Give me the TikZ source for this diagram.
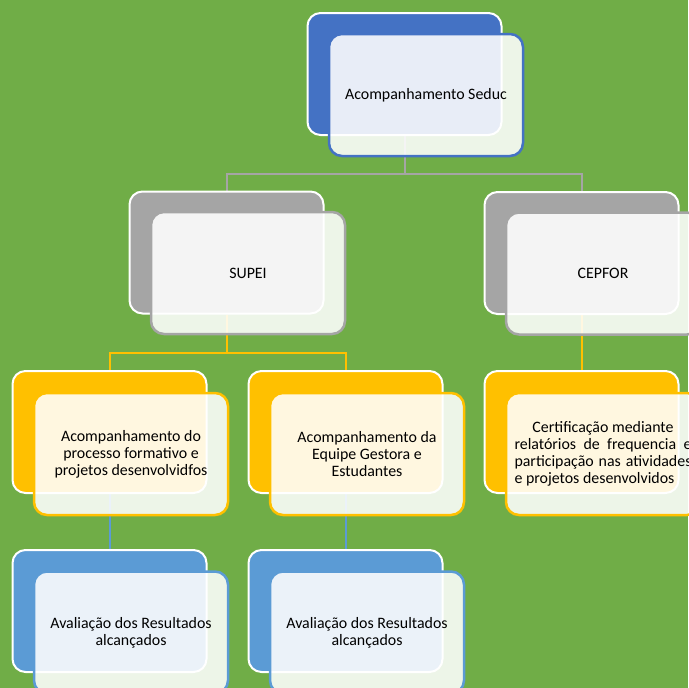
\documentclass[tikz,border=0pt]{standalone}
\usepackage{fontspec}
\setmainfont{Carlito}
\definecolor{bggreen}{HTML}{70AD47}
\definecolor{topblue}{HTML}{4472C4}
\definecolor{midgray}{HTML}{A5A5A5}
\definecolor{gold}{HTML}{FFC000}
\definecolor{lightblue}{HTML}{5B9BD5}
\pgfdeclarelayer{base}
\pgfdeclarelayer{lines}
\pgfsetlayers{base,lines,main}
\begin{document}
\begin{tikzpicture}[x=1pt,y=-1pt,
  backbox/.style={draw=white, fill=#1, line width=2pt, rounded corners=13pt,
    minimum width=194pt, minimum height=122pt, inner sep=0pt},
  frontbox/.style={draw=#1, fill=white, fill opacity=0.88, text opacity=1,
    line width=2.5pt, rounded corners=13pt, minimum width=194pt,
    minimum height=122pt, inner sep=4pt, align=center, text=black,
    font=\fontsize{15.9}{17}\selectfont},
  conn/.style={draw=#1, line width=2pt}]
\useasboundingbox (0,0) rectangle (688,688);
\begin{pgfonlayer}{base}
\fill[bggreen] (0,0) rectangle (688,688);
\end{pgfonlayer}

% level 1
\node[backbox=topblue] (topb) at (404.5,74) {};
\node[frontbox=topblue] (topf) at (426,95) {\raisebox{-2pt}{Acompanhamento Seduc}};
% level 2
\node[backbox=midgray] (supeib) at (226.5,252.5) {};
\node[frontbox=midgray] (supeif) at (248,273) {\raisebox{-2pt}{SUPEI}};
\node[backbox=midgray] (cepforb) at (581.5,253) {};
\node[frontbox=midgray] (cepforf) at (603,273.5) {\raisebox{-2pt}{CEPFOR}};
% level 3
\node[backbox=gold] (procb) at (109.5,432) {};
\node[frontbox=gold] (procf) at (131,454) {Acompanhamento do\\processo formativo e\\projetos desenvolvidfos};
\node[backbox=gold] (equipb) at (345.5,432) {};
\node[frontbox=gold] (equipf) at (367,454) {Acompanhamento da\\Equipe Gestora e\\Estudantes};
\node[backbox=gold] (certb) at (581.5,432) {};
\node[frontbox=gold] (certf) at (603,454) {Certificação mediante\\
  \makebox[177pt][s]{relatórios de frequencia e}\\
  \makebox[177pt][s]{participação nas atividades}\\
  \makebox[177pt][l]{e projetos desenvolvidos}};
% level 4
\node[backbox=lightblue] (aval1b) at (109.5,611) {};
\node[frontbox=lightblue] (aval1f) at (131,632.5) {Avaliação dos Resultados\\alcançados};
\node[backbox=lightblue] (aval2b) at (345.5,611) {};
\node[frontbox=lightblue] (aval2f) at (367,632.5) {Avaliação dos Resultados\\alcançados};

\coordinate (bar1) at (0,174);
\coordinate (bar2) at (0,353);
\begin{pgfonlayer}{lines}
\draw[conn=midgray] (topb.south) -- (topb.south |- bar1) -| (supeib.north);
\draw[conn=midgray] (topb.south |- bar1) -| (cepforb.north);
\draw[conn=gold] (supeib.south) -- (supeib.south |- bar2) -| (procb.north);
\draw[conn=gold] (supeib.south |- bar2) -| (equipb.north);
\draw[conn=gold] (cepforb.south) -- (certb.north);
\draw[conn=lightblue] (procb.south) -- (aval1b.north);
\draw[conn=lightblue] (equipb.south) -- (aval2b.north);
\end{pgfonlayer}
\end{tikzpicture}
\end{document}
